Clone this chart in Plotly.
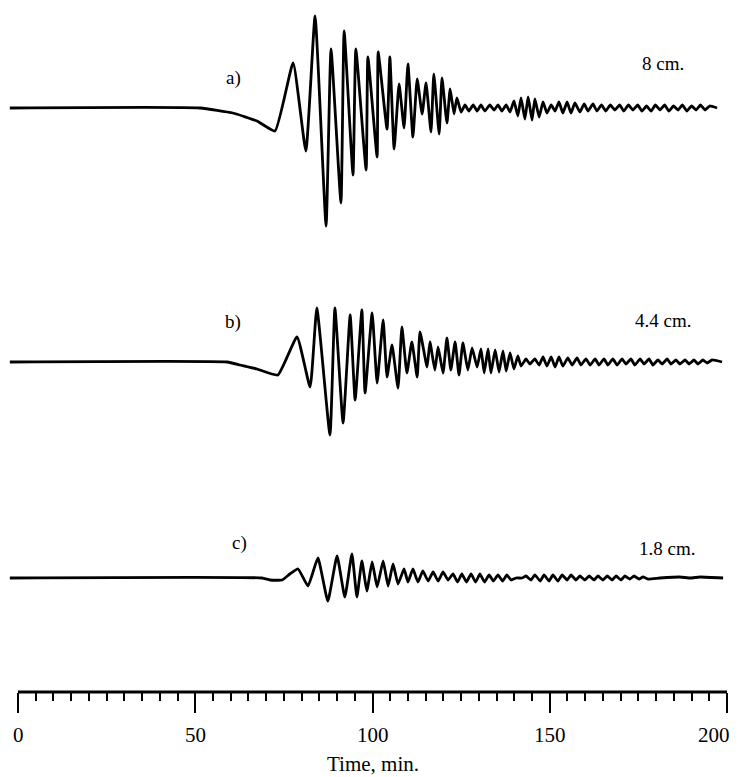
import plotly.graph_objects as go

# the page body adds an 8 px offset, so the figure is drawn 8 px smaller
PAGE_PAD = 8
W, H = 742 - PAGE_PAD, 777 - PAGE_PAD

# record a) 8 cm. -- time (min) and trace deflection
a_t = [-2.3, 51.3, 60.6, 67.4, 72.5, 77.6, 81.2, 83.8, 86.9, 88.3,
       91.1, 92.0, 94.5, 95.3, 98.2, 98.7, 101.3, 101.6, 104.1, 104.9,
       106.1, 107.5, 108.9, 110.0, 111.4, 112.6, 114.0, 115.1, 116.5, 117.3,
       118.8, 119.6, 121.0, 121.9, 123.0, 123.8, 125.0, 126.1, 127.2, 128.4,
       129.5, 130.6, 131.7, 133.1, 134.3, 135.4, 136.5, 137.7, 138.8, 139.9,
       141.0, 141.9, 143.0, 143.9, 145.0, 145.8, 147.0, 148.1, 149.2, 150.4,
       151.5, 152.6, 153.7, 154.9, 156.0, 157.1, 158.5, 159.7, 160.8, 162.2,
       163.3, 164.6, 165.8, 167.1, 168.4, 169.7, 170.9, 172.2, 173.5, 174.8,
       176.0, 177.3, 178.6, 179.8, 181.1, 182.4, 183.6, 184.9, 186.2, 187.4,
       188.7, 190.0, 191.3, 192.5, 193.8, 195.1, 197.2]
a_amp = [0, 0, -5, -13, -23, 45, -43, 92, -118, 59,
         -95, 77, -67, 59, -62, 51, -49, 56, -21, 51,
         -41, 24, -20, 44, -29, 29, -6, 25, -24, 34,
         -26, 30, -15, 19, -6, 10, -4, 3, -3, 3,
         -3, 3, -3, 3, -2, 3, -3, 3, -4, 7,
         -8, 10, -11, 11, -12, 9, -9, 6, -5, 3,
         -3, 6, -5, 6, -5, 5, -4, 4, -3, 4,
         -3, 3, -3, 3, -2, 3, -3, 3, -2, 3,
         -3, 2, -3, 3, -2, 3, -3, 2, -2, 3,
         -3, 2, -2, 3, -2, 2, 0]

# record b) 4.4 cm.
b_t = [-2.3, 59.0, 62.6, 67.4, 73.3, 78.7, 82.4, 84.3, 88.0, 89.4,
       91.7, 93.7, 95.1, 97.0, 97.9, 99.9, 101.3, 103.0, 104.1, 105.5,
       107.2, 108.3, 109.7, 111.1, 112.6, 113.4, 115.4, 116.2, 117.6, 118.5,
       119.9, 121.0, 122.1, 123.3, 124.4, 125.5, 126.9, 128.1, 129.5, 130.6,
       131.5, 132.6, 133.4, 134.6, 135.7, 136.8, 137.7, 138.8, 139.9, 141.0,
       141.9, 143.3, 144.4, 145.8, 147.0, 148.1, 149.2, 150.4, 151.5, 152.6,
       153.7, 155.1, 156.3, 157.7, 158.8, 160.2, 161.4, 162.8, 163.9, 165.3,
       166.4, 167.8, 169.0, 170.4, 171.5, 172.9, 174.0, 175.5, 176.6, 178.0,
       179.1, 180.5, 181.7, 183.1, 184.2, 185.6, 186.7, 188.2, 189.3, 190.7,
       191.8, 193.2, 194.4, 195.8, 198.6]
b_amp = [0, 0, -3, -7, -13, 25, -25, 54, -73, 54,
         -61, 47, -38, 52, -31, 49, -21, 42, -15, 17,
         -26, 35, -11, 20, -15, 30, -5, 20, -8, 15,
         -11, 24, -8, 20, -13, 19, -8, 14, -5, 13,
         -11, 13, -11, 12, -10, 11, -9, 9, -7, 6,
         -4, 3, -2, 3, -3, 5, -4, 5, -5, 5,
         -4, 4, -3, 4, -3, 3, -3, 3, -3, 3,
         -3, 3, -3, 3, -2, 3, -3, 3, -2, 3,
         -3, 2, -2, 3, -2, 2, -2, 2, -2, 2,
         -2, 2, -1, 2, 0]

# record c) 1.8 cm.
c_t = [-2.3, 68.8, 71.1, 74.5, 76.7, 79.0, 81.8, 84.6, 87.4, 90.0,
       92.2, 94.2, 95.6, 97.0, 98.4, 99.9, 101.3, 103.0, 104.4, 105.8,
       107.2, 108.9, 110.0, 111.4, 112.8, 114.2, 115.7, 117.1, 118.5, 119.9,
       121.3, 122.7, 124.0, 125.2, 126.5, 127.8, 129.1, 130.3, 131.6, 132.9,
       134.1, 135.4, 136.7, 137.9, 139.1, 140.5, 142.2, 143.3, 144.7, 145.8,
       147.3, 148.4, 149.8, 150.9, 152.3, 153.5, 154.9, 156.0, 157.4, 158.5,
       159.9, 161.1, 162.5, 163.6, 165.0, 166.2, 167.6, 168.7, 170.1, 171.2,
       172.6, 173.8, 175.2, 176.3, 177.7, 181.1, 186.7, 189.6, 192.4, 198.9]
c_amp = [0, 0, -2, -2, 4, 9, -8, 20, -23, 22,
         -19, 24, -19, 17, -13, 16, -9, 17, -8, 14,
         -6, 9, -4, 9, -4, 7, -3, 6, -3, 6,
         -2, 4, -4, 4, -4, 4, -4, 4, -4, 3,
         -3, 3, -3, 3, -2, 0, 0, 2, -2, 3,
         -3, 3, -3, 3, -3, 3, -2, 3, -2, 2,
         -2, 2, -2, 2, -2, 2, -2, 2, -2, 2,
         -1, 2, -1, 1, -1, 0, 1, 0, 1, 0]

panel_tags = ["a)", "b)", "c)"]
panel_scales = ["8 cm.", "4.4 cm.", "1.8 cm."]
tick_vals = [0, 50, 100, 150, 200]
tick_text = ["0", "50", "100", "150", "200"]

SERIF = "Liberation Serif"
PX_PER_MIN = 3.545
T0_PX = 18  # page x of t = 0


def px_to_paper(py):
    return 1 - (py - PAGE_PAD) / H


def band(top, bottom, base):
    # page-pixel band of a record -> axis domain and range, 1 unit per pixel
    return [px_to_paper(bottom), px_to_paper(top)], [base - bottom, base - top]


bands = [band(8, 235, 108), band(235, 470, 362), band(470, 660, 578)]
tag_pos = [(60.9, 78), (60.6, 322), (62.6, 543)]
scale_pos = [(181.9, 64), (181.9, 320), (183.1, 548)]
AXIS_Y = px_to_paper(692)
LABEL_Y = px_to_paper(735)
x_lo = -(T0_PX - PAGE_PAD) / PX_PER_MIN
x_hi = x_lo + W / PX_PER_MIN

fig = go.Figure()
records = [(a_t, a_amp), (b_t, b_amp), (c_t, c_amp)]
for i, (t, amp) in enumerate(records):
    suffix = "" if i == 0 else str(i + 1)
    fig.add_trace(go.Scatter(
        x=t, y=amp, mode="lines", yaxis="y" + suffix,
        line=dict(color="black", width=2.8, shape="spline", smoothing=0.4),
        hoverinfo="skip", showlegend=False))
    dom, rng = bands[i]
    fig.update_layout(**{"yaxis" + suffix: dict(domain=dom, range=rng, visible=False,
                                                 fixedrange=True)})

annotations = []
for i in range(3):
    for label, (tx, ty) in [(panel_tags[i], tag_pos[i]), (panel_scales[i], scale_pos[i])]:
        annotations.append(dict(x=tx, y=px_to_paper(ty), xref="x", yref="paper",
                                xanchor="center", yanchor="middle",
                                text=label, showarrow=False,
                                font=dict(family=SERIF, size=19, color="black")))

# tick numbers as annotations so the last one stays inside the visible edge
for v, txt in zip(tick_vals, tick_text):
    last = v == tick_vals[-1]
    annotations.append(dict(x=v, y=LABEL_Y, xref="x", yref="paper",
                            xanchor="right" if last else "center",
                            xshift=5 if last else 0,
                            yanchor="middle", text=txt, showarrow=False,
                            font=dict(family=SERIF, size=21, color="black")))

annotations.append(dict(x=100, y=px_to_paper(764), xref="x", yref="paper",
                        xanchor="center", yanchor="middle", text="Time, min.",
                        showarrow=False, font=dict(family=SERIF, size=21, color="black")))

fig.update_layout(
    template="none",
    width=W, height=H,
    margin=dict(l=0, r=0, t=0, b=0),
    paper_bgcolor="white", plot_bgcolor="white",
    showlegend=False,
    xaxis=dict(
        range=[x_lo, x_hi], anchor="free", position=AXIS_Y,
        showline=False, showgrid=False, zeroline=False, automargin=False,
        ticks="outside", tickmode="array", tickvals=tick_vals,
        showticklabels=False,
        ticklen=20, tickwidth=2, tickcolor="black",
        minor=dict(tick0=0, dtick=5, ticks="outside", ticklen=8, tickwidth=2,
                   tickcolor="black", showgrid=False),
        fixedrange=True,
    ),
    shapes=[dict(type="line", xref="x", yref="paper", x0=0, x1=200, y0=AXIS_Y, y1=AXIS_Y,
                 line=dict(color="black", width=2.8))],
    annotations=annotations,
)

fig.write_html("out.html")
